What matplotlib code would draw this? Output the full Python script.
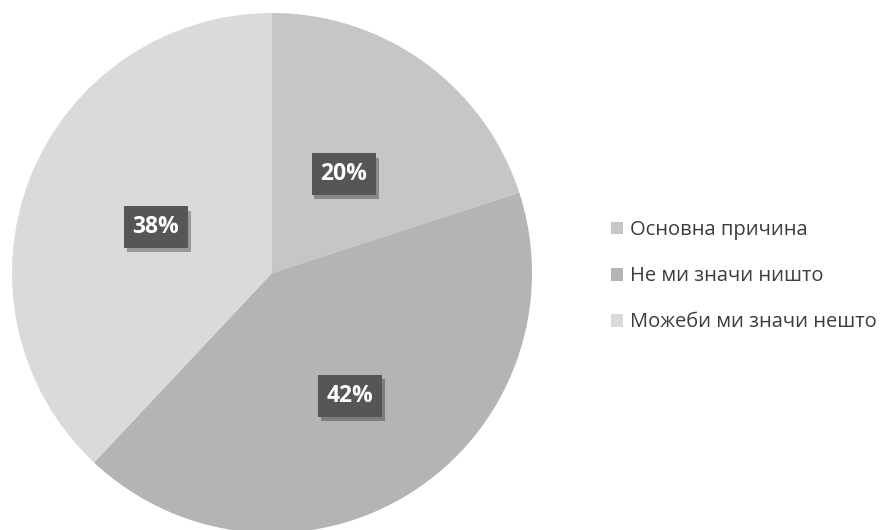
import numpy as np
import matplotlib
matplotlib.use("Agg")
import matplotlib.pyplot as plt
import matplotlib.patheffects as pe

# answer shares, clockwise from 12 o'clock
labels = ["Основна причина", "Не ми значи ништо", "Можеби ми значи нешто"]
shares = [20, 42, 38]
colors = ["#c6c6c6", "#b4b4b4", "#dadada"]

# radial position of each percentage box (fraction of radius)
label_radius = [0.47, 0.56, 0.48]

plt.rcParams["font.family"] = ["Open Sans", "DejaVu Sans"]

fig = plt.figure(figsize=(8.84, 5.30), dpi=100)
ax = fig.add_axes([12 / 884, -3 / 530, 520 / 884, 520 / 530])

wedges, texts, autotexts = ax.pie(
    shares, colors=colors, startangle=90, counterclock=False,
    autopct="%d%%", pctdistance=0.5,
    wedgeprops=dict(linewidth=0),
    textprops=dict(color="white", fontsize=16.5, fontweight="bold"),
)
ax.set_xlim(-1, 1)
ax.set_ylim(-1, 1)
ax.set_aspect("equal")

for w, t, r in zip(wedges, autotexts, label_radius):
    mid = np.deg2rad((w.theta1 + w.theta2) / 2)
    t.set_position((r * np.cos(mid), r * np.sin(mid)))
    t.set_bbox(dict(boxstyle="square,pad=0.38", facecolor="#565656",
                    edgecolor="none"))
    t.get_bbox_patch().set_path_effects([
        pe.SimplePatchShadow(offset=(2, -3), shadow_rgbFace="#000000", alpha=0.3),
        pe.Normal(),
    ])

leg = fig.legend(
    wedges, labels, loc="upper left", bbox_to_anchor=(603 / 884, 1 - 212 / 530),
    frameon=False, fontsize=14.5, handlelength=0.6, handleheight=0.6,
    handletextpad=0.35, labelspacing=1.3, borderaxespad=0,
)
for txt in leg.get_texts():
    txt.set_color("#3c3c3c")

fig.savefig("out.png", dpi=100)
